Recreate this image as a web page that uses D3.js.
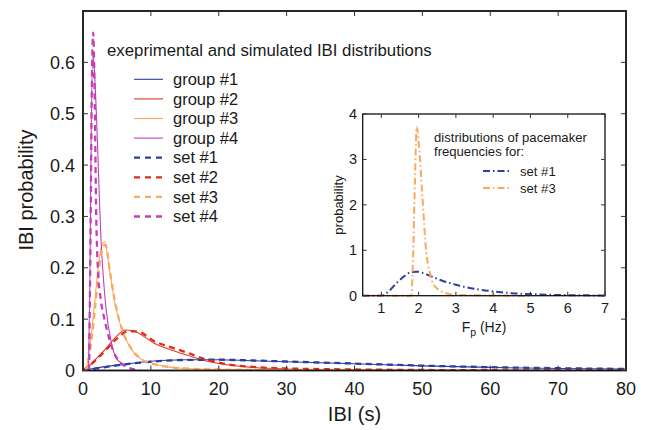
<!DOCTYPE html>
<html>
<head>
<meta charset="utf-8">
<script src="https://cdn.jsdelivr.net/npm/d3@7/dist/d3.min.js"></script>
<style>
  body { margin: 0; background: #fff; }
  text { font-family: "Liberation Sans", Arial, sans-serif; fill: #1a1a1a; }
</style>
</head>
<body>
<script>
// IBI distributions, [IBI (s), probability]
const group1 = [[0,0],[1.5,0.004],[5.4,0.011],[10,0.018],[15,0.021],[20,0.021],[25,0.019],[30,0.017],[35,0.015],[40,0.013],[50,0.009],[60,0.006],[70,0.004],[80,0.003]];
const group2 = [[0,0],[0.5,0.004],[1.5,0.017],[3,0.037],[4.9,0.066],[6.2,0.079],[7.5,0.077],[9,0.066],[10.5,0.053],[13,0.04],[15.3,0.03],[18,0.019],[20.2,0.013],[25,0.006],[30,0.003],[40,0.001],[50,0.0005],[80,0]];
const group3 = [[0.3,0],[0.5,0.007],[1.2,0.066],[1.7,0.13],[2.2,0.196],[2.7,0.24],[3.2,0.251],[3.9,0.196],[4.7,0.131],[5.6,0.085],[6.9,0.046],[8.3,0.024],[10,0.015],[12,0.008],[15,0.004],[20,0.002],[30,0.001],[40,0]];
const group4 = [[0.8,0],[1.0,0.15],[1.2,0.45],[1.45,0.62],[1.7,0.58],[2.0,0.49],[2.3,0.38],[2.6,0.27],[2.95,0.19],[3.4,0.12],[4.2,0.053],[4.9,0.024],[5.6,0.015],[6.4,0.01]];
const set1 = [[0,0],[2,0.004],[5,0.01],[10,0.017],[15,0.0205],[20,0.021],[25,0.0195],[30,0.0175],[35,0.0155],[40,0.0135],[50,0.0095],[60,0.0065],[70,0.0045],[80,0.003]];
const set2 = [[0,0],[1,0.01],[3,0.035],[5,0.062],[6.5,0.076],[8,0.076],[10.5,0.057],[13,0.045],[15.3,0.035],[18,0.022],[20.5,0.014],[25,0.007],[30,0.004],[40,0.002],[50,0.001],[60,0.0005],[80,0]];
const set3 = [[0.4,0],[0.6,0.008],[1.3,0.065],[1.8,0.125],[2.3,0.19],[2.8,0.235],[3.3,0.245],[4.0,0.19],[4.8,0.128],[5.7,0.082],[7,0.045],[8.5,0.023],[10,0.014],[12,0.008],[15,0.004],[20,0.002],[30,0.001],[40,0]];
const set4 = [[0.9,0],[1.1,0.25],[1.3,0.55],[1.5,0.658],[1.7,0.55],[1.95,0.3],[2.2,0.196],[2.6,0.14],[3.2,0.098],[3.8,0.065],[4.4,0.04],[5.2,0.02],[6,0.01],[7,0.004],[8.5,0]];

// inset: pacemaker frequency distributions, [F_p (Hz), probability]
const freqSet1 = [[0.5,0],[1,0],[1.2,0.1],[1.4,0.27],[1.6,0.42],[1.8,0.52],[1.95,0.53],[2.3,0.44],[2.6,0.34],[3,0.24],[3.5,0.15],[4,0.095],[4.5,0.055],[5,0.035],[5.5,0.02],[6,0.012],[7,0.005]];
const freqSet3 = [[0.5,0],[1.8,0],[1.85,0.8],[1.9,2.5],[1.95,3.72],[2.0,3.4],[2.1,2.2],[2.2,1.0],[2.3,0.5],[2.4,0.25],[2.6,0.1],[2.8,0.04],[3,0.02],[4,0.005],[5,0]];

const xTicks = [0, 10, 20, 30, 40, 50, 60, 70, 80];
const yTicks = [0, 0.1, 0.2, 0.3, 0.4, 0.5, 0.6];
const insetXTicks = [1, 2, 3, 4, 5, 6, 7];
const insetYTicks = [0, 1, 2, 3, 4];

const mainSeries = [
  { name: 'group #1', data: group1, color: '#2b3f9e', dashed: false },
  { name: 'group #2', data: group2, color: '#e2362a', dashed: false },
  { name: 'group #3', data: group3, color: '#f9a960', dashed: false },
  { name: 'group #4', data: group4, color: '#c042b8', dashed: false },
  { name: 'set #1', data: set1, color: '#2b3f9e', dashed: true },
  { name: 'set #2', data: set2, color: '#dc2d17', dashed: true },
  { name: 'set #3', data: set3, color: '#f9a960', dashed: true },
  { name: 'set #4', data: set4, color: '#c042b8', dashed: true }
];
const insetSeries = [
  { name: 'set #1', data: freqSet1, color: '#2b3f9e' },
  { name: 'set #3', data: freqSet3, color: '#f9a960' }
];

const W = 646, H = 430;
const svg = d3.select('body').append('svg')
  .attr('width', W).attr('height', H);

// main plot
const x = d3.scaleLinear().domain([0, 80]).range([83, 626]);
const y = d3.scaleLinear().domain([0, 0.7]).range([370.5, 11]);

svg.append('clipPath').attr('id', 'clipMain')
  .append('rect').attr('x', 83).attr('y', 11).attr('width', 543).attr('height', 359.5);

const line = d3.line()
  .x(d => x(d[0])).y(d => y(d[1]))
  .curve(d3.curveMonotoneX);

const gLines = svg.append('g').attr('clip-path', 'url(#clipMain)');
gLines.selectAll('path')
  .data(mainSeries)
  .join('path')
  .attr('d', d => line(d.data))
  .attr('fill', 'none')
  .attr('stroke', d => d.color)
  .attr('stroke-width', d => d.dashed ? 2.3 : 1.1)
  .attr('stroke-dasharray', d => d.dashed ? '6,4.5' : null);

// axes with inward ticks on all four sides
function frame(g, xs, ys, xt, yt, tickLen, sw) {
  const [x0, x1] = xs.range();
  const [y0, y1] = ys.range();
  g.append('rect')
    .attr('x', x0).attr('y', y1).attr('width', x1 - x0).attr('height', y0 - y1)
    .attr('fill', 'none').attr('stroke', '#111').attr('stroke-width', sw);
  g.selectAll('.tb').data(xt).join('line')
    .attr('x1', d => xs(d)).attr('x2', d => xs(d)).attr('y1', y0).attr('y2', y0 - tickLen)
    .attr('stroke', '#333').attr('stroke-width', 1);
  g.selectAll('.tt').data(xt).join('line')
    .attr('x1', d => xs(d)).attr('x2', d => xs(d)).attr('y1', y1).attr('y2', y1 + tickLen)
    .attr('stroke', '#333').attr('stroke-width', 1);
  g.selectAll('.tl').data(yt).join('line')
    .attr('x1', x0).attr('x2', x0 + tickLen).attr('y1', d => ys(d)).attr('y2', d => ys(d))
    .attr('stroke', '#333').attr('stroke-width', 1);
  g.selectAll('.tr').data(yt).join('line')
    .attr('x1', x1).attr('x2', x1 - tickLen).attr('y1', d => ys(d)).attr('y2', d => ys(d))
    .attr('stroke', '#333').attr('stroke-width', 1);
}

const gAxes = svg.append('g');
frame(gAxes, x, y, xTicks, yTicks, 5, 1.8);

gAxes.selectAll('.xl').data(xTicks).join('text')
  .attr('x', d => x(d)).attr('y', 395)
  .attr('text-anchor', 'middle').attr('font-size', 18)
  .text(d => d);
gAxes.selectAll('.yl').data(yTicks).join('text')
  .attr('x', 75).attr('y', d => y(d) + 6.5)
  .attr('text-anchor', 'end').attr('font-size', 18)
  .text(d => d === 0 ? '0' : d3.format('.1f')(d));

svg.append('text')
  .attr('x', 354.5).attr('y', 421)
  .attr('text-anchor', 'middle').attr('font-size', 20)
  .text('IBI (s)');
svg.append('text')
  .attr('transform', 'translate(33,190) rotate(-90)')
  .attr('text-anchor', 'middle').attr('font-size', 20)
  .text('IBI probability');

// legend
svg.append('text')
  .attr('x', 107).attr('y', 56).attr('font-size', 16.8)
  .text('exeprimental and simulated IBI distributions');

const legend = svg.append('g').selectAll('g')
  .data(mainSeries)
  .join('g')
  .attr('transform', (d, i) => `translate(0,${85 + i * 19.6})`);
legend.append('line')
  .attr('x1', 134).attr('x2', 163).attr('y1', -5.7).attr('y2', -5.7)
  .attr('stroke', d => d.color)
  .attr('stroke-width', d => d.dashed ? 2.3 : 1.1)
  .attr('stroke-dasharray', d => d.dashed ? '6,5' : null);
legend.append('text')
  .attr('x', 173).attr('y', 0).attr('font-size', 16.5)
  .text(d => d.name);

// inset
const ix = d3.scaleLinear().domain([0.5, 7]).range([362.7, 605]);
const iy = d3.scaleLinear().domain([0, 4]).range([295.7, 114]);

const gInset = svg.append('g');
gInset.append('rect')
  .attr('x', 362.7).attr('y', 114).attr('width', 242.3).attr('height', 181.7)
  .attr('fill', '#fff');

const iline = d3.line()
  .x(d => ix(d[0])).y(d => iy(d[1]))
  .curve(d3.curveMonotoneX);

gInset.selectAll('.iser')
  .data(insetSeries)
  .join('path')
  .attr('d', d => iline(d.data))
  .attr('fill', 'none')
  .attr('stroke', d => d.color)
  .attr('stroke-width', 2)
  .attr('stroke-dasharray', '7,3,1.5,3');

frame(gInset, ix, iy, insetXTicks, insetYTicks, 4, 1.3);

gInset.selectAll('.ixl').data(insetXTicks).join('text')
  .attr('x', d => ix(d)).attr('y', 313)
  .attr('text-anchor', 'middle').attr('font-size', 14.5)
  .text(d => d);
gInset.selectAll('.iyl').data(insetYTicks).join('text')
  .attr('x', 357).attr('y', d => iy(d) + 5)
  .attr('text-anchor', 'end').attr('font-size', 14.5)
  .text(d => d);

const fp = gInset.append('text')
  .attr('x', 484).attr('y', 332)
  .attr('text-anchor', 'middle').attr('font-size', 14);
fp.append('tspan').text('F');
fp.append('tspan').attr('font-size', 10.5).attr('dy', 4).text('p');
fp.append('tspan').attr('dy', -4).text(' (Hz)');

gInset.append('text')
  .attr('transform', 'translate(343,205) rotate(-90)')
  .attr('text-anchor', 'middle').attr('font-size', 13)
  .text('probability');

gInset.append('text')
  .attr('x', 434).attr('y', 142.3).attr('font-size', 13.1)
  .text('distributions of pacemaker');
gInset.append('text')
  .attr('x', 434).attr('y', 156).attr('font-size', 13.1)
  .text('frequencies for:');

const ileg = gInset.append('g').selectAll('g')
  .data(insetSeries)
  .join('g')
  .attr('transform', (d, i) => `translate(0,${176 + i * 17})`);
ileg.append('line')
  .attr('x1', 483).attr('x2', 512).attr('y1', -5).attr('y2', -5)
  .attr('stroke', d => d.color).attr('stroke-width', 2)
  .attr('stroke-dasharray', '7,3,1.5,3');
ileg.append('text')
  .attr('x', 520).attr('y', 0).attr('font-size', 13.1)
  .text(d => d.name);
</script>
</body>
</html>
